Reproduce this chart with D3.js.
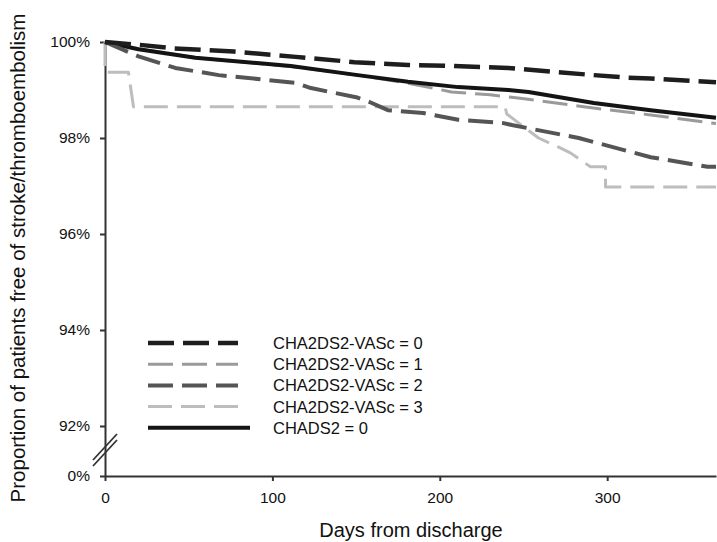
<!DOCTYPE html>
<html>
<head>
<meta charset="utf-8">
<script src="https://cdn.jsdelivr.net/npm/d3@7"></script>
<style>
  body { margin: 0; background: #fff; }
  svg { font-family: "Liberation Sans", Arial, Helvetica, sans-serif; display: block; }
</style>
</head>
<body>
<svg id="chart" width="717" height="542"></svg>
<script>
// days from discharge / percent free of event
var days0 = [0, 21, 40, 77, 114, 149, 181, 207, 241, 271, 292, 311, 326, 350, 365];
var vals0 = [100, 99.94, 99.87, 99.8, 99.69, 99.58, 99.52, 99.5, 99.46, 99.37, 99.31, 99.26, 99.24, 99.19, 99.16];

var days1 = [0, 20, 54, 111, 151, 181, 207, 230, 248, 286, 326, 365];
var vals1 = [100, 99.86, 99.67, 99.49, 99.31, 99.14, 98.96, 98.9, 98.83, 98.65, 98.48, 98.3];

var days2 = [0, 20, 42, 68, 114, 123, 150, 158, 169, 190, 211, 238, 243, 283, 326, 360, 365];
var vals2 = [100, 99.7, 99.46, 99.31, 99.15, 99.04, 98.85, 98.75, 98.58, 98.52, 98.38, 98.31, 98.27, 98.0, 97.6, 97.4, 97.4];

var days3 = [0, 0, 14, 17, 239, 240, 259, 271, 278, 290, 299, 299, 365];
var vals3 = [100, 99.37, 99.37, 98.65, 98.65, 98.5, 98.0, 97.81, 97.69, 97.4, 97.4, 96.98, 96.98];

var daysC = [0, 20, 54, 111, 151, 181, 211, 241, 253, 292, 326, 365];
var valsC = [100, 99.85, 99.67, 99.5, 99.31, 99.17, 99.06, 99.0, 98.96, 98.73, 98.58, 98.42];

var labels = ["CHA2DS2-VASc = 0", "CHA2DS2-VASc = 1", "CHA2DS2-VASc = 2", "CHA2DS2-VASc = 3", "CHADS2 = 0"];
var xTicks = [0, 100, 200, 300];
var yTicks = [0, 92, 94, 96, 98, 100];

var svg = d3.select("#chart");

var x = d3.scaleLinear().domain([0, 365]).range([105, 716]);
// broken axis: 0% sits just under 92%
var y = d3.scaleLinear().domain([0, 92, 100]).range([476, 426, 42]);

var series = [
    {days: days3, vals: vals3, color: "#bdbdbd", width: 3, dash: "24,9", label: labels[3], li: 3},
    {days: days1, vals: vals1, color: "#9a9a9a", width: 3, dash: "25,9", label: labels[1], li: 1},
    {days: daysC, vals: valsC, color: "#141414", width: 4, dash: null, label: labels[4], li: 4},
    {days: days2, vals: vals2, color: "#555", width: 4, dash: "25,9", label: labels[2], li: 2},
    {days: days0, vals: vals0, color: "#1e1e1e", width: 4.5, dash: "26,9", label: labels[0], li: 0}
];

// axes
svg.append("g")
    .attr("transform", "translate(105,0)")
    .call(d3.axisLeft(y).tickValues(yTicks).tickFormat(function (d) { return d + "%"; })
        .tickSize(5).tickSizeOuter(0).tickPadding(10));
svg.append("g")
    .attr("transform", "translate(0,476)")
    .call(d3.axisBottom(x).tickValues(xTicks).tickSize(5).tickSizeOuter(0).tickPadding(11));

svg.selectAll(".domain, .tick line").attr("stroke", "#333").attr("stroke-width", 2);
svg.selectAll(".tick text").attr("fill", "#111").style("font-size", "15.5px");

// break marks on y axis
var yb = (y(0) + y(92)) / 2;
[-3, 3].forEach(function (o) {
    svg.append("line")
        .attr("x1", 93).attr("y1", yb + 12 + o)
        .attr("x2", 117).attr("y2", yb - 14 + o)
        .attr("stroke", "#333").attr("stroke-width", 1.8);
});

var line = d3.line()
    .x(function (d) { return x(d[0]); })
    .y(function (d) { return y(d[1]); });

series.forEach(function (s) {
    var pts = s.days.map(function (d, i) { return [d, s.vals[i]]; });
    svg.append("path")
        .attr("d", line(pts))
        .attr("fill", "none")
        .attr("stroke", s.color)
        .attr("stroke-width", s.width)
        .attr("stroke-linejoin", "round")
        .attr("stroke-dasharray", s.dash);
});

// legend
var leg = svg.append("g");
series.forEach(function (s) {
    var ly = 343 + s.li * 21.2;
    leg.append("line")
        .attr("x1", 148).attr("x2", s.dash ? 238 : 250)
        .attr("y1", ly).attr("y2", ly)
        .attr("stroke", s.color)
        .attr("stroke-width", s.width)
        .attr("stroke-dasharray", s.dash);
    leg.append("text")
        .attr("x", 273).attr("y", ly)
        .attr("dy", "0.36em")
        .style("font-size", "16.5px")
        .attr("fill", "#111")
        .text(s.label);
});

// axis titles
svg.append("text")
    .attr("x", 411).attr("y", 537)
    .attr("text-anchor", "middle")
    .style("font-size", "20px")
    .attr("fill", "#111")
    .text("Days from discharge");

svg.append("text")
    .attr("transform", "translate(25,258) rotate(-90)")
    .attr("text-anchor", "middle")
    .style("font-size", "20.5px")
    .attr("fill", "#111")
    .text("Proportion of patients free of stroke/thromboembolism");
</script>
</body>
</html>
